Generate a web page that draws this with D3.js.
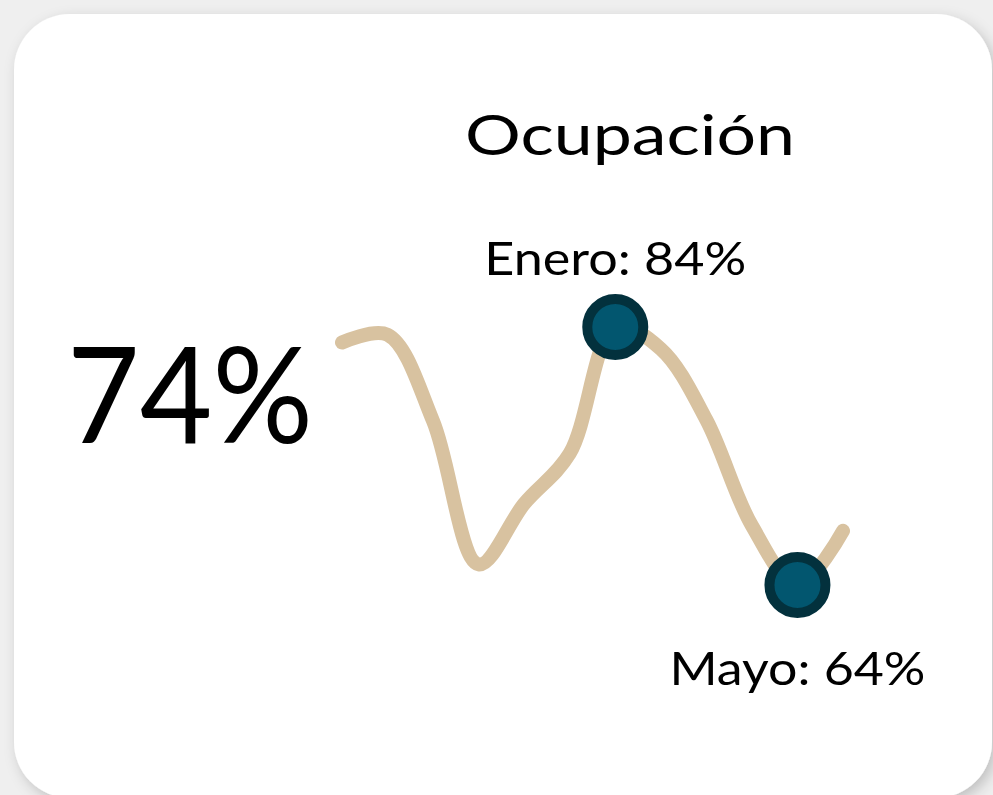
<!DOCTYPE html>
<html>
<head>
<meta charset="utf-8">
<script src="https://cdn.jsdelivr.net/npm/d3@7"></script>
<style>
  html, body { margin: 0; padding: 0; background: #ececec; }
  svg { display: block; }
</style>
</head>
<body>
<script>
// Ocupación card: sparkline of monthly occupancy with two highlighted months

// data
var months = ["Julio", "Agosto", "Septiembre", "Octubre", "Noviembre", "Diciembre",
              "Enero", "Febrero", "Marzo", "Abril", "Mayo", "Junio"];
var occupancy = [82.8, 83.4, 76.7, 65.6, 70.3, 74.2, 84, 82.3, 76.8, 68.6, 64, 68.2];
var highlighted = ["Enero", "Mayo"];
var title = "Ocupación";
var summaryValue = 74;

var W = 993, H = 795;
var fontFamily = "Lato, 'Noto Sans', sans-serif";

var svg = d3.select("body").append("svg")
    .attr("width", W)
    .attr("height", H);

// soft shadow behind the card
var defs = svg.append("defs");
var shadow = defs.append("filter")
    .attr("id", "cardShadow")
    .attr("x", "-10%").attr("y", "-10%")
    .attr("width", "120%").attr("height", "120%");
shadow.append("feDropShadow")
    .attr("dx", 4).attr("dy", 5)
    .attr("stdDeviation", 7)
    .attr("flood-color", "#000")
    .attr("flood-opacity", 0.2);

svg.append("rect")
    .attr("width", W).attr("height", H)
    .attr("fill", "#efefef");

svg.append("rect")
    .attr("x", 14).attr("y", 14)
    .attr("width", 978).attr("height", 784)
    .attr("rx", 56).attr("ry", 56)
    .attr("fill", "#ffffff")
    .attr("filter", "url(#cardShadow)");

// scales
var x = d3.scalePoint().domain(months).range([342, 843]);
var y = d3.scaleLinear().domain([60, 90]).range([636.6, 249.6]);

var data = months.map(function(m, i) { return {month: m, value: occupancy[i]}; });

// title
svg.append("text")
    .attr("x", 630)
    .attr("y", 155)
    .attr("text-anchor", "middle")
    .attr("textLength", 330)
    .attr("lengthAdjust", "spacingAndGlyphs")
    .style("font-family", fontFamily)
    .style("font-size", "56px")
    .attr("fill", "#000")
    .text(title);

// big summary number
svg.append("text")
    .attr("x", 190)
    .attr("y", 443)
    .attr("text-anchor", "middle")
    .attr("textLength", 246)
    .attr("lengthAdjust", "spacingAndGlyphs")
    .style("font-family", fontFamily)
    .style("font-size", "134px")
    .attr("fill", "#000")
    .text(summaryValue + "%");

// line
var line = d3.line()
    .x(function(d) { return x(d.month); })
    .y(function(d) { return y(d.value); })
    .curve(d3.curveCatmullRom.alpha(0.5));

svg.append("path")
    .datum(data)
    .attr("d", line)
    .attr("fill", "none")
    .attr("stroke", "#d8c2a0")
    .attr("stroke-width", 14)
    .attr("stroke-linecap", "round")
    .attr("stroke-linejoin", "round");

// highlighted points
var marks = data.filter(function(d) { return highlighted.indexOf(d.month) >= 0; });

svg.selectAll("circle.mark")
    .data(marks)
    .enter().append("circle")
    .attr("class", "mark")
    .attr("cx", function(d) { return x(d.month); })
    .attr("cy", function(d) { return y(d.value); })
    .attr("r", 28)
    .attr("fill", "#02566f")
    .attr("stroke", "#03313d")
    .attr("stroke-width", 10);

// labels: max above, min below
var maxVal = d3.max(occupancy);
svg.selectAll("text.lbl")
    .data(marks)
    .enter().append("text")
    .attr("class", "lbl")
    .attr("x", function(d) { return x(d.month); })
    .attr("y", function(d) { return d.value === maxVal ? y(d.value) - 52 : y(d.value) + 100; })
    .attr("text-anchor", "middle")
    .attr("textLength", function(d) { return d.value === maxVal ? 262 : 256; })
    .attr("lengthAdjust", "spacingAndGlyphs")
    .style("font-family", fontFamily)
    .style("font-size", "46px")
    .attr("fill", "#000")
    .text(function(d) { return d.month + ": " + Math.round(d.value) + "%"; });
</script>
</body>
</html>
